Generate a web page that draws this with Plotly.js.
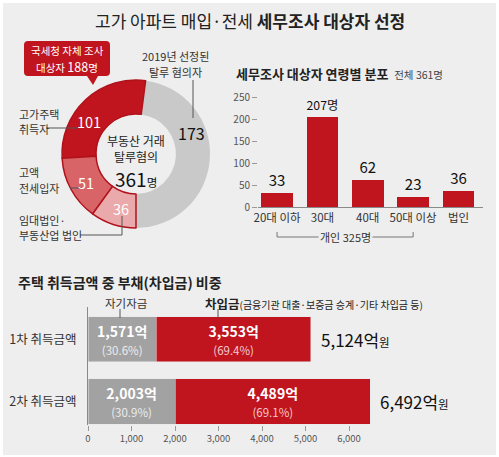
<!DOCTYPE html>
<html><head><meta charset="utf-8">
<script src="https://cdn.plot.ly/plotly-3.0.1.min.js"></script>
<style>html,body{margin:0;padding:0;background:#fff}#chart{width:499px;height:457px}</style>
</head><body><div id="chart"></div>
<script>
// ---- data ----
const donutLabels = ['2019년 선정된 탈루 혐의자', '고가주택 취득자', '고액 전세입자', '임대법인·부동산업 법인'];
const donutValues = [173, 101, 51, 36];
const donutTotal = 361;
const selfAuditTotal = 188;

const ageCategories = ['20대 이하', '30대', '40대', '50대 이상', '법인'];
const ageValues = [33, 207, 62, 23, 36];
const ageTicks = [0, 50, 100, 150, 200, 250];
const ageTotal = 361;
const individualTotal = 325;

const acqCategories = ['1차 취득금액', '2차 취득금액'];
const ownFunds = [1571, 2003];
const borrowed = [3553, 4489];
const ownPct = [30.6, 30.9];
const borrowedPct = [69.4, 69.1];
const acqTotals = [5124, 6492];
const amountTicks = [0, 1000, 2000, 3000, 4000, 5000, 6000];

// ---- helpers ----
const W = 499, H = 457;
const px = x => x / W;
const py = y => 1 - y / H;
const fmt = v => v.toLocaleString('en-US');
const RED = '#c0141f', GRAY_BAR = '#a2a2a2', BG = '#eeeeee';
const FONT = 'Noto Sans CJK KR';

const traces = [];

// first slice (gray) ends at 6 o'clock, others continue counterclockwise
const donutSum = donutValues.reduce((a, b) => a + b, 0);
traces.push({
  type: 'pie', values: donutValues, labels: donutLabels, sort: false,
  direction: 'counterclockwise', rotation: 180 - 360 * donutValues[0] / donutSum, hole: 0.54,
  domain: {x: [px(62), px(210)], y: [py(228), py(80)]},
  marker: {colors: ['#c9c9c9', '#c0141f', '#d86467', '#eaaaab'],
           line: {color: ['#c9c9c9', '#b0121b', '#b0121b', '#b0121b'], width: [0, 1.5, 1.5, 1.5]}},
  textinfo: 'none', hoverinfo: 'none', showlegend: false
});

traces.push({
  type: 'bar', x: ageCategories, y: ageValues, xaxis: 'x', yaxis: 'y',
  marker: {color: RED}, width: 0.7,
  text: ageValues.map((v, i) => i === ageValues.indexOf(Math.max(...ageValues)) ? v + '명' : String(v)),
  textposition: 'outside', cliponaxis: false,
  textfont: {size: 15, color: '#111'}, showlegend: false, hoverinfo: 'none'
});

traces.push({
  type: 'bar', orientation: 'h', y: acqCategories, x: ownFunds, xaxis: 'x2', yaxis: 'y2',
  marker: {color: GRAY_BAR, line: {color: '#e8e8e8', width: 0.5}}, width: 0.73,
  text: ownFunds.map((v, i) => `<b>${fmt(v)}억</b><br><span style="font-size:11.5px;font-weight:normal;fill:#ececec">(${ownPct[i].toFixed(1)}%)</span>`),
  textposition: 'inside', insidetextanchor: 'middle', constraintext: 'none', textangle: 0,
  textfont: {size: 14, color: '#fff'}, showlegend: false, hoverinfo: 'none'
});
traces.push({
  type: 'bar', orientation: 'h', y: acqCategories, x: borrowed, xaxis: 'x2', yaxis: 'y2',
  marker: {color: RED, line: {color: '#e8e8e8', width: 0.5}}, width: 0.73,
  text: borrowed.map((v, i) => `<b>${fmt(v)}억</b><br><span style="font-size:11.5px;font-weight:normal;fill:#f5c8ca">(${borrowedPct[i].toFixed(1)}%)</span>`),
  textposition: 'inside', insidetextanchor: 'middle', constraintext: 'none', textangle: 0,
  textfont: {size: 14, color: '#fff'}, showlegend: false, hoverinfo: 'none'
});

const ann = [];
const A = (o) => ann.push(Object.assign({xref: 'paper', yref: 'paper', showarrow: false}, o));
// one annotation per text line, for clean spacing
const lines = (x, ys, texts, anchor, size, color) => texts.forEach((t, i) =>
  A({x: px(x), y: py(ys[i]), xanchor: anchor, yanchor: 'middle', text: t, font: {size: size, color: color}}));

// title
A({x: px(249.5), y: py(20), xanchor: 'center', yanchor: 'middle',
   text: '고가 아파트 매입·전세 <b>세무조사 대상자 선정</b>', font: {size: 17, color: '#222'}});

// donut labels
const donutLabelPos = [[191, 133], [89, 122], [86, 183], [121, 208]];
donutValues.forEach((v, i) => {
  A({x: px(donutLabelPos[i][0]), y: py(donutLabelPos[i][1]), xanchor: 'center', yanchor: 'middle',
     text: String(v), font: {size: i === 0 ? 16 : 14.5, color: i === 0 ? '#111' : '#fff'}});
});
lines(136, [140, 157], ['부동산 거래', '탈루혐의'], 'center', 12, '#222');
A({x: px(136), y: py(178), xanchor: 'center', yanchor: 'middle',
   text: `<span style="font-size:19px">${donutTotal}</span>명`, font: {size: 11.5, color: '#111'}});
lines(67, [50, 66], ['국세청 자체 조사', `대상자 <span style="font-size:12.5px">${selfAuditTotal}</span>명`], 'center', 10.5, '#fff');
lines(175, [56, 72], ['2019년 선정된', '탈루 혐의자'], 'center', 11, '#333');
lines(17, [114, 129], ['고가주택', '취득자'], 'left', 11, '#333');
lines(17, [172, 188], ['고액', '전세입자'], 'left', 11, '#333');
lines(17, [220, 235], ['임대법인·', '부동산업 법인'], 'left', 11, '#333');

// age chart heading
A({x: px(234), y: py(73), xanchor: 'left', yanchor: 'middle',
   text: `<b>세무조사 대상자 연령별 분포</b>  <span style="font-size:10.5px;fill:#444">전체 ${ageTotal}명</span>`,
   font: {size: 13, color: '#222'}});
A({xref: 'x', x: 1.5, y: py(237), xanchor: 'center', yanchor: 'middle', bgcolor: BG,
   text: `개인 ${individualTotal}명`, font: {size: 11, color: '#333'}});

// bottom heading + legend labels
A({x: px(16), y: py(282), xanchor: 'left', yanchor: 'middle',
   text: '<b>주택 취득금액 중 부채(차입금) 비중</b>', font: {size: 14, color: '#222'}});
A({x: px(126), y: py(303), xanchor: 'center', yanchor: 'middle',
   text: '자기자금', font: {size: 11.5, color: '#333'}});
A({x: px(203), y: py(303), xanchor: 'left', yanchor: 'middle',
   text: '<b>차입금</b><span style="font-size:10px">(금융기관 대출·보증금 승계·기타 차입금 등)</span>',
   font: {size: 12.5, color: '#222'}});
acqTotals.forEach((t, i) => {
  ann.push({xref: 'x2', yref: 'y2', x: t, y: acqCategories[i], xanchor: 'left', yanchor: 'middle',
    xshift: 8, showarrow: false,
    text: `<span style="font-size:17px">${fmt(t)}억</span>원`, font: {size: 11.5, color: '#111'}});
});

const shapes = [];
// background panel
shapes.push({type: 'rect', xref: 'paper', yref: 'paper', x0: px(3), x1: px(496), y0: py(455), y1: py(3),
  fillcolor: BG, line: {width: 0}, layer: 'below'});
// callout box
const r = 4, bx0 = 24, bx1 = 110, by0 = 41, by1 = 76;
const P = (x, y) => `${px(x)},${py(y)}`;
const calloutPath = `M ${P(bx0 + r, by0)} L ${P(bx1 - r, by0)} Q ${P(bx1, by0)} ${P(bx1, by0 + r)} ` +
  `L ${P(bx1, by1 - r)} Q ${P(bx1, by1)} ${P(bx1 - r, by1)} L ${P(98, by1)} L ${P(93, 85)} L ${P(87, by1)} ` +
  `L ${P(bx0 + r, by1)} Q ${P(bx0, by1)} ${P(bx0, by1 - r)} L ${P(bx0, by0 + r)} Q ${P(bx0, by0)} ${P(bx0 + r, by0)} Z`;
shapes.push({type: 'path', xref: 'paper', yref: 'paper', path: calloutPath, fillcolor: RED, line: {width: 0}});
const L = (x0, y0, x1, y1, c) => shapes.push({type: 'line', xref: 'paper', yref: 'paper',
  x0: px(x0), y0: py(y0), x1: px(x1), y1: py(y1), line: {color: c || '#555', width: 1}});
L(193, 80, 193, 118);
L(46, 128, 77, 128);
L(70, 188, 82, 188);
L(80, 235, 122, 235); L(122, 235, 122, 216);
L(120, 309, 120, 318);
L(218, 309, 218, 318);
// bracket for individuals
shapes.push({type: 'line', xref: 'x', yref: 'paper', x0: 0, x1: 3, y0: py(237), y1: py(237), line: {color: '#777', width: 1}});
shapes.push({type: 'line', xref: 'x', yref: 'paper', x0: 0, x1: 0, y0: py(237), y1: py(232), line: {color: '#777', width: 1}});
shapes.push({type: 'line', xref: 'x', yref: 'paper', x0: 3, x1: 3, y0: py(237), y1: py(232), line: {color: '#777', width: 1}});

const layout = {
  width: W, height: H, margin: {l: 0, r: 0, t: 0, b: 0},
  paper_bgcolor: '#ffffff', plot_bgcolor: 'rgba(0,0,0,0)',
  font: {family: FONT, color: '#333'},
  barmode: 'stack', showlegend: false,
  xaxis: {domain: [px(258), px(483)], anchor: 'y', type: 'category', range: [-0.42, 4.54],
    showline: true, linecolor: '#8a8a8a', linewidth: 1, ticks: '', showgrid: false, zeroline: false,
    tickfont: {size: 11.5, color: '#333'}, fixedrange: true},
  yaxis: {domain: [py(207), py(89)], anchor: 'x', range: [0, 270], tickvals: ageTicks,
    ticks: 'outside', ticklen: 5, tickcolor: '#999', showline: false, showgrid: false, zeroline: false,
    tickfont: {size: 10, color: '#555'}, fixedrange: true},
  xaxis2: {domain: [px(88), px(480)], anchor: 'y2', range: [0, 9011], tickvals: amountTicks,
    ticktext: amountTicks.map(fmt), ticks: 'outside', ticklen: 5, tickcolor: '#999',
    showline: false, showgrid: false, zeroline: false, tickfont: {size: 9.5, color: '#555'}, fixedrange: true},
  yaxis2: {domain: [py(425), py(307)], anchor: 'x2', type: 'category', range: [1.38, -0.52],
    showline: true, linecolor: '#8a8a8a', linewidth: 1, ticks: '', showgrid: false, zeroline: false,
    ticklabelstandoff: 8, tickfont: {size: 12.5, color: '#333'}, fixedrange: true},
  annotations: ann, shapes: shapes
};

Plotly.newPlot('chart', traces, layout, {staticPlot: true, displayModeBar: false});
</script></body></html>
